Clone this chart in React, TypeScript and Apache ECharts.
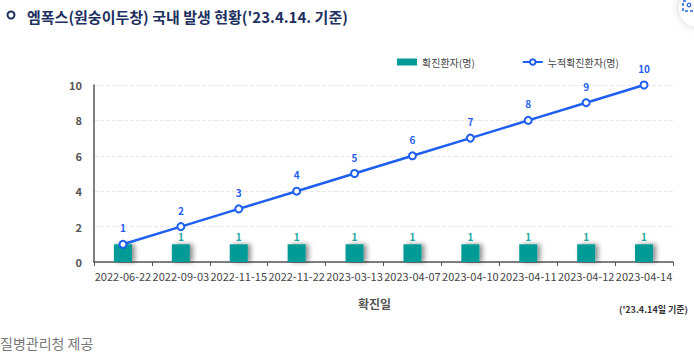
import React, { useEffect, useRef } from "react";
import * as echarts from "echarts";

const categories = [
  "2022-06-22", "2022-09-03", "2022-11-15", "2022-11-22", "2023-03-13",
  "2023-04-07", "2023-04-10", "2023-04-11", "2023-04-12", "2023-04-14",
];
const dailyCases = [1, 1, 1, 1, 1, 1, 1, 1, 1, 1];
const cumulativeCases = [1, 2, 3, 4, 5, 6, 7, 8, 9, 10];
const yTicks = { min: 0, max: 10, interval: 2 };

const FONT = "'Noto Sans CJK KR', 'Noto Sans', sans-serif";
const TEAL = "#009b96";
const BLUE = "#1f5ff0";

export default function App() {
  const ref = useRef<HTMLDivElement>(null);
  useEffect(() => {
    if (!ref.current) return;
    const chart = echarts.init(ref.current, null, { renderer: "svg" });
    chart.setOption({
      animation: false,
      backgroundColor: "#ffffff",
      textStyle: { fontFamily: FONT },
      title: {
        text: "엠폭스(원숭이두창) 국내 발생 현황('23.4.14. 기준)",
        left: 22,
        top: 4,
        textStyle: { fontSize: 15, fontWeight: "bold", color: "#1d3060", fontFamily: FONT },
      },
      legend: {
        top: 52,
        left: 392,
        itemGap: 47,
        itemWidth: 20,
        itemHeight: 7,
        textStyle: { fontSize: 10, color: "#444", fontFamily: FONT },
        data: [
          { name: "확진환자(명)", icon: "rect" },
          { name: "누적확진환자(명)" },
        ],
      },
      grid: { left: 94, right: 21, top: 85, bottom: 98 },
      xAxis: {
        type: "category",
        data: categories,
        boundaryGap: true,
        axisLine: { lineStyle: { color: "#555", width: 1.5 } },
        axisTick: { show: true, alignWithLabel: false, length: 4, lineStyle: { color: "#555" } },
        axisLabel: { fontSize: 11, color: "#444", margin: 8, interval: 0, fontFamily: FONT },
      },
      yAxis: {
        type: "value",
        min: yTicks.min,
        max: yTicks.max,
        interval: yTicks.interval,
        axisLine: { show: true, lineStyle: { color: "#555", width: 1.5 } },
        axisTick: { show: false },
        axisLabel: { fontSize: 11, fontWeight: "bold", color: "#555", margin: 12, fontFamily: FONT },
        splitLine: { lineStyle: { color: "#e8e8e8", type: "dashed" } },
      },
      series: [
        {
          name: "확진환자(명)",
          type: "bar",
          data: dailyCases.map((v, i) => (i === 0 ? { value: v, label: { show: false } } : v)),
          barWidth: 18,
          itemStyle: {
            color: TEAL,
            shadowBlur: 5,
            shadowOffsetX: 3,
            shadowOffsetY: 0,
            shadowColor: "rgba(0,0,0,0.45)",
          },
          label: {
            show: true,
            position: "top",
            distance: 3,
            fontSize: 10,
            fontWeight: "bold",
            color: "#1eaaa2",
            fontFamily: FONT,
          },
        },
        {
          name: "누적확진환자(명)",
          type: "line",
          data: cumulativeCases,
          symbol: "circle",
          symbolSize: 7,
          lineStyle: { color: BLUE, width: 2.5 },
          itemStyle: { color: "#ffffff", borderColor: BLUE, borderWidth: 2 },
          label: {
            show: true,
            position: "top",
            distance: 7,
            fontSize: 10,
            fontWeight: "bold",
            color: BLUE,
            fontFamily: FONT,
          },
          z: 3,
        },
      ],
      graphic: [
        {
          type: "circle",
          shape: { cx: 11, cy: 15, r: 3.5 },
          style: { fill: "#ffffff", stroke: "#1d3060", lineWidth: 2 },
        },
        {
          type: "text",
          left: 358,
          top: 297,
          style: {
            text: "확진일",
            fontSize: 12,
            fontWeight: "bold",
            fill: "#555",
            fontFamily: FONT,
          },
        },
        {
          type: "text",
          right: 6,
          top: 305,
          style: {
            text: "('23.4.14일 기준)",
            fontSize: 9,
            fontWeight: "bold",
            fill: "#333",
            fontFamily: FONT,
          },
        },
        {
          type: "text",
          left: 0,
          top: 336,
          style: {
            text: "질병관리청 제공",
            fontSize: 14,
            fill: "#777",
            fontFamily: FONT,
          },
        },
        {
          type: "circle",
          shape: { cx: 698, cy: 8, r: 19 },
          style: { fill: "#ffffff", shadowBlur: 8, shadowColor: "rgba(0,0,0,0.18)" },
        },
        {
          type: "polyline",
          shape: { points: [[686, 1], [683, 1], [683, 11], [694, 11]] },
          style: { stroke: "#2060e0", lineWidth: 1.5, lineDash: [3, 2], fill: "none" },
        },
        {
          type: "circle",
          shape: { cx: 689, cy: 5, r: 1.8 },
          style: { fill: "#ffffff", stroke: "#2060e0", lineWidth: 1.2 },
        },
      ],
    });
    return () => chart.dispose();
  }, []);
  return (
    <div
      ref={ref}
      style={{ position: "fixed", left: 0, top: 0, width: 694, height: 360 }}
    />
  );
}
